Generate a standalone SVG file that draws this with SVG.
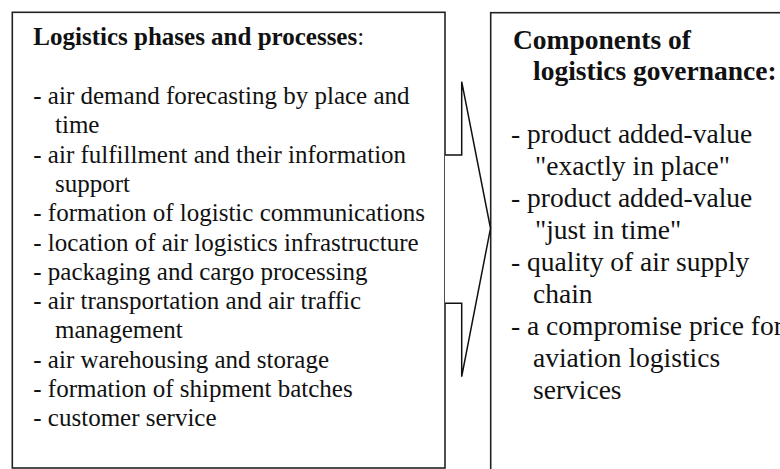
<svg xmlns="http://www.w3.org/2000/svg" width="780" height="469" viewBox="0 0 780 469">
<style>
.box{fill:#fff;stroke:#222;stroke-width:1.6}
.t{font-family:"Liberation Serif","Times New Roman",serif;fill:#111}
.l{font-size:25px}
.r{font-size:27.5px}
.b{font-weight:bold}
.conn{fill:#fff;stroke:#111;stroke-width:1.5;stroke-linejoin:miter}
</style>
<rect width="780" height="469" fill="#fff"/>
<g id="phases">
<rect class="box" x="12.3" y="12.3" width="432.7" height="455.7"/>
<text class="t l" x="33.3" y="45.3"><tspan class="b">Logistics phases and processes</tspan>:</text>
<text class="t l" x="33.3" y="104">- air demand forecasting by place and</text>
<text class="t l" x="55" y="133.3">time</text>
<text class="t l" x="33.3" y="162.6">- air fulfillment and their information</text>
<text class="t l" x="55" y="191.9">support</text>
<text class="t l" x="33.3" y="221.2">- formation of logistic communications</text>
<text class="t l" x="33.3" y="250.5">- location of air logistics infrastructure</text>
<text class="t l" x="33.3" y="279.8">- packaging and cargo processing</text>
<text class="t l" x="33.3" y="309.1">- air transportation and air traffic</text>
<text class="t l" x="55" y="338.4">management</text>
<text class="t l" x="33.3" y="367.7">- air warehousing and storage</text>
<text class="t l" x="33.3" y="397">- formation of shipment batches</text>
<text class="t l" x="33.3" y="426.3">- customer service</text>
</g>
<g id="governance">
<rect class="box" x="490.7" y="12.7" width="300" height="470"/>
<text class="t r b" x="513" y="48.5">Components of</text>
<text class="t r b" x="533" y="79.5">logistics governance:</text>
<text class="t r" x="511" y="142.5">- product added-value</text>
<text class="t r" x="535" y="174.5">"exactly in place"</text>
<text class="t r" x="511" y="206.5">- product added-value</text>
<text class="t r" x="535" y="238.5">"just in time"</text>
<text class="t r" x="511" y="270.5">- quality of air supply</text>
<text class="t r" x="533" y="302.5">chain</text>
<text class="t r" x="511" y="334.5">- a compromise price for</text>
<text class="t r" x="533" y="366.5">aviation logistics</text>
<text class="t r" x="533" y="398.5">services</text>
</g>
<g id="connectors">
<polyline class="conn" points="445,155 461.7,155 461.7,81.7 490.5,228.3 461.7,376.7 461.7,303.3 445,303.3"/>
</g>
</svg>
